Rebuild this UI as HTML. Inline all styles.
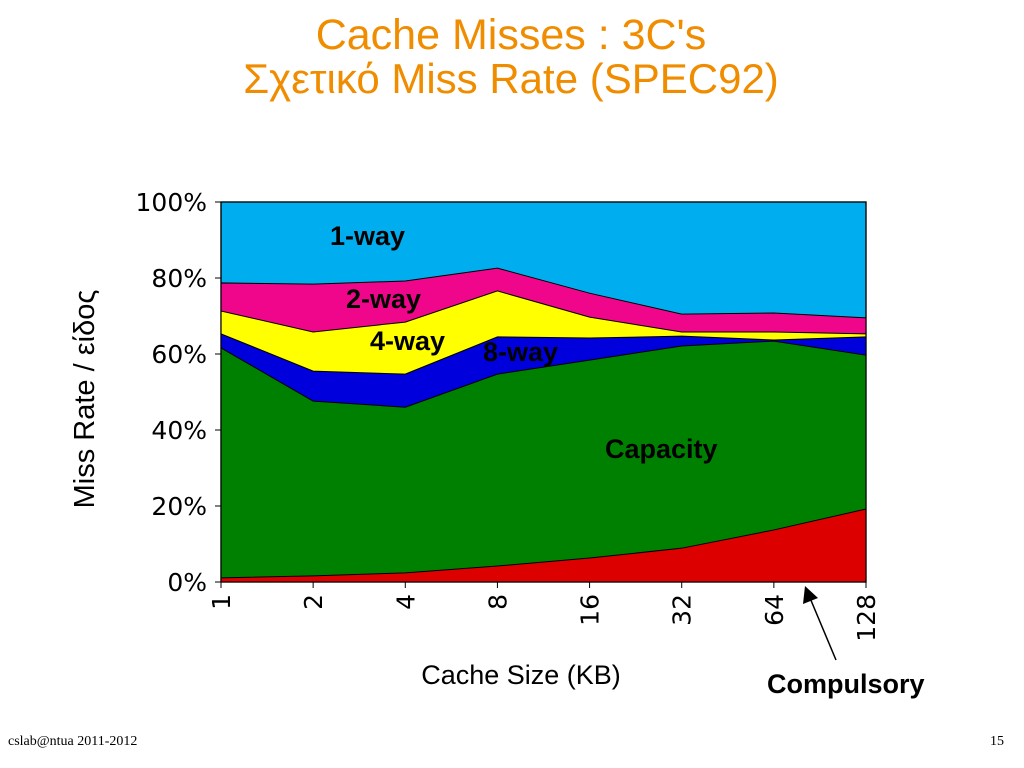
<!DOCTYPE html>
<html><head><meta charset="utf-8"><style>
body{margin:0;width:1024px;height:768px;background:#fff;overflow:hidden;font-family:"Liberation Sans","DejaVu Sans",sans-serif;position:relative}
.t{position:absolute;white-space:nowrap}
</style></head><body>
<div class="t" style="left:0;width:1022px;text-align:center;top:12px;font-size:43px;color:#f08c00;line-height:46px">Cache Misses : 3C's</div>
<div class="t" style="left:0;width:1022px;text-align:center;top:56px;font-size:42px;color:#f08c00;line-height:46px">Σχετικό Miss Rate (SPEC92)</div>
<svg id="chart" width="1024" height="768" style="position:absolute;left:0;top:0"></svg>
<div class="t" style="left:8px;top:734px;font-family:'Liberation Serif',serif;font-size:14px">cslab@ntua 2011-2012</div>
<div class="t" style="left:990px;top:734px;font-family:'Liberation Serif',serif;font-size:14px">15</div>
<script>
const categories=["1","2","4","8","16","32","64","128"];
const compulsory=[1.1,1.6,2.4,4.2,6.3,8.9,13.7,19.2];
const capacity=[60.5,46,43.6,50.5,52.1,53.2,49.7,40.5];
const way8=[3.7,7.9,8.7,9.8,5.8,2.6,0.3,4.8];
const way4=[6,10.3,13.7,12.1,5.5,1.1,2.1,0.8];
const way2=[7.4,12.6,10.8,6,6.3,4.7,5,4.2];
const yTicks=[0,20,40,60,80,100];
const NS="http://www.w3.org/2000/svg";
const svg=document.getElementById('chart');
const X0=221,X1=866,Y0=582,Y1=202;
const x=i=>X0+(X1-X0)*i/(categories.length-1);
const y=v=>Y0-(Y0-Y1)*v/100;
function mk(t,a,p){const e=document.createElementNS(NS,t);for(const k in a)e.setAttribute(k,a[k]);(p||svg).appendChild(e);return e;}
const bg=mk('rect',{x:X0,y:Y1,width:X1-X0,height:Y0-Y1,fill:'#00aeef',stroke:'#000','stroke-width':1.2});


const series=[["compulsory",compulsory,"#dd0000"],["capacity",capacity,"#008000"],["8-way",way8,"#0000dd"],["4-way",way4,"#ffff00"],["2-way",way2,"#f0068a"]];
let cum=categories.map(()=>0);const tops=[];
series.forEach(s=>{const lo=cum.slice();cum=cum.map((c,i)=>c+s[1][i]);tops.push([s,lo,cum.slice()]);});
for(let k=tops.length-1;k>=0;k--){const [s,lo,hi]=tops[k];
 let d='M'+x(0)+','+y(0);hi.forEach((v,i)=>d+=' L'+x(i)+','+y(v));d+=' L'+x(categories.length-1)+','+y(0)+'Z';
 const p=mk('path',{d:d,fill:s[2],stroke:'#000','stroke-width':1});
 
 }
mk('rect',{x:X0,y:Y1,width:X1-X0,height:Y0-Y1,fill:'none',stroke:'#000','stroke-width':1.2});
yTicks.forEach(v=>{mk('line',{x1:X0-6,x2:X0,y1:y(v),y2:y(v),stroke:'#000'});
 const t=mk('text',{x:X0-14,y:y(v)+9,'text-anchor':'end','font-size':25,'font-family':'DejaVu Sans,sans-serif'});t.textContent=v+'%';
 
 });
categories.forEach((c,i)=>{mk('line',{x1:x(i),x2:x(i),y1:Y0,y2:Y0+6,stroke:'#000'});
 const t=mk('text',{transform:`translate(${x(i)+9},${Y0+12}) rotate(-90)`,'text-anchor':'end','font-size':25,'font-family':'DejaVu Sans,sans-serif'});t.textContent=c;
 
 });
const yt=mk('text',{transform:'translate(94,399) rotate(-90)','text-anchor':'middle','font-size':29,'font-family':'Liberation Sans,DejaVu Sans,sans-serif'});yt.textContent='Miss Rate / είδος';


const xt=mk('text',{x:521,y:684,'text-anchor':'middle','font-size':27,'font-family':'Liberation Sans,sans-serif'});xt.textContent='Cache Size (KB)';


[["1-way",330,245],["2-way",346,308],["4-way",370,350],["8-way",483,361],["Capacity",605,458],["Compulsory",767,693]].forEach(l=>{
 const t=mk('text',{x:l[1],y:l[2],'font-size':27,'font-weight':'bold','font-family':'Liberation Sans,sans-serif'});t.textContent=l[0];
 
 });
mk('line',{x1:836,y1:660,x2:810,y2:598,stroke:'#000','stroke-width':1.5});
mk('path',{d:'M805,586 L803,604 L818,598Z',fill:'#000'});
</script>
</body></html>
